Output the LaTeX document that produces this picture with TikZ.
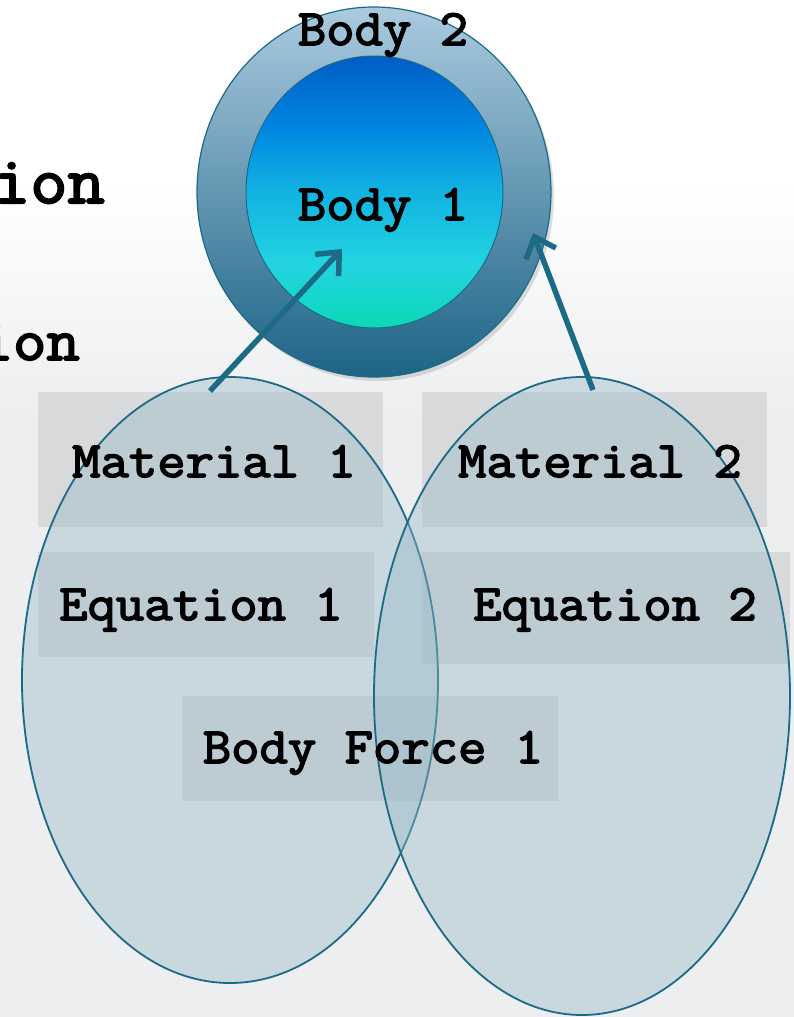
\documentclass[tikz,border=0pt]{standalone}
\usepackage{fontspec}
\newfontfamily\slabmono{Latin Modern Mono}[FakeBold=3, FakeStretch=1.08]
\usepackage{xcolor}
\usepackage{tikz}
\usetikzlibrary{
  arrows.meta,
  shapes.geometric,
  shadows
}

\definecolor{edgeteal}{HTML}{1B6A86}
\definecolor{ringtop}{HTML}{AACADF}
\definecolor{ringbot}{HTML}{1D6486}
\definecolor{coretop}{HTML}{005EC5}
\definecolor{coreblue}{HTML}{0086E2}
\definecolor{coremid}{HTML}{12B2E2}
\definecolor{coreaqua}{HTML}{22D4E0}
\definecolor{corebot}{HTML}{0CD8B6}
\definecolor{setfill}{HTML}{96B9C8}
\definecolor{bggray}{HTML}{ECEEEF}

\pgfdeclareverticalshading{coreshade}{100bp}{
  color(0bp)=(corebot); color(25bp)=(corebot); color(37bp)=(coreaqua);
  color(50bp)=(coremid); color(62bp)=(coreblue); color(75bp)=(coretop); color(100bp)=(coretop)}

\begin{document}
\begin{tikzpicture}[x=1pt,y=-1pt,
  lbl/.style={font=\slabmono\fontsize{51}{54}\selectfont, inner sep=0pt, anchor=base},
  setshape/.style={ellipse, draw=edgeteal, line width=1.8pt, fill=setfill, fill opacity=0.4, minimum width=416pt, inner sep=0pt},
  tagbox/.style={fill=black!60, fill opacity=0.15, inner sep=0pt},
  link/.style={draw=edgeteal, line width=5.5pt, -{Straight Barb[length=18pt,width=32pt]}}
]
  \useasboundingbox (0,0) rectangle (794,1017);
  \clip (0,0) rectangle (794,1017);

  % Background
  \fill[white] (0,0) rectangle (794,1017);
  \fill[top color=white, bottom color=bggray] (0,180) rectangle (794,420);
  \fill[bggray] (0,420) rectangle (794,1017);

  % Cut-off words on the left
  \node[font=\slabmono\fontsize{67}{70}\selectfont, inner sep=0pt, anchor=base east] (cutword1) at (105,203) {ion};
  \node[font=\slabmono\fontsize{60}{63}\selectfont, inner sep=0pt, anchor=base east] (cutword2) at (80,360) {ion};

  % Boxes
  \node[tagbox, minimum width=345pt, minimum height=135pt] (mat1box) at (210.5,459.5) {};
  \node[tagbox, minimum width=336pt, minimum height=105pt] (eq1box) at (206,604.5) {};
  \node[tagbox, minimum width=345pt, minimum height=135pt] (mat2box) at (594.5,459.5) {};
  \node[tagbox, minimum width=368pt, minimum height=112pt] (eq2box) at (606,608) {};
  \node[tagbox, minimum width=376pt, minimum height=105pt] (forcebox) at (370,748.5) {};

  % Sets of the two bodies
  \node[setshape, minimum height=606pt] (set1) at (230,680) {};
  \node[setshape, minimum height=638pt] (set2) at (582,696) {};

  % Labels
  \node[lbl] (mat1) at (214,477) {Material 1};
  \node[lbl] (eq1) at (201,620) {Equation 1};
  \node[lbl] (mat2) at (600,477) {Material 2};
  \node[lbl] (eq2) at (615,620) {Equation 2};
  \node[lbl] (force1) at (373,763) {Body Force 1};

  % Bodies
  \node[ellipse, draw=edgeteal, line width=1.2pt, top color=ringtop, bottom color=ringbot,
        minimum width=354pt, minimum height=370pt, inner sep=0pt,
        drop shadow={opacity=0.25, shadow xshift=3pt, shadow yshift=-4pt}] (body2) at (374,192) {};
  \node[ellipse, draw=edgeteal, line width=1pt, shading=coreshade,
        minimum width=257pt, minimum height=272pt, inner sep=0pt] (body1) at (374.5,192) {};
  \node[lbl] (body2lbl) at (383,45) {Body 2};
  \node[lbl] (body1lbl) at (383,220) {Body 1};

  % Links from the sets to the bodies
  \coordinate (tail1) at (210,391);
  \coordinate (tip1) at (342,249);
  \coordinate (tail2) at (593,390);
  \coordinate (tip2) at (533,233);
  \draw[link] (tail1) -- (tip1);
  \draw[link] (tail2) -- (tip2);
\end{tikzpicture}
\end{document}
